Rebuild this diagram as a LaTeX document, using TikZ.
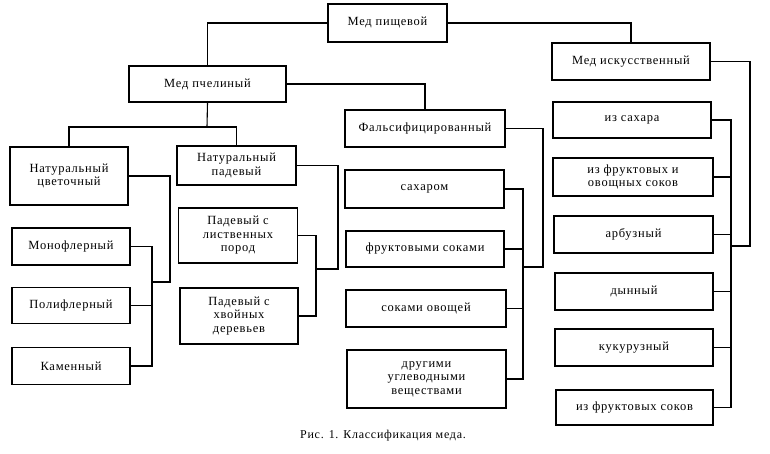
\documentclass[tikz,border=0pt]{standalone}
\usepackage{fontspec}
\setmainfont{Liberation Serif}[LetterSpace=6]
\begin{document}
\begin{tikzpicture}[x=1pt,y=-1pt,
  box/.style={draw,line width=1.2pt,align=center,inner sep=2pt,
    font=\fontsize{12.5}{13.5}\selectfont},
  link/.style={line width=1.1pt}]
\useasboundingbox (0,0) rectangle (770,454);
% boxes
\node[box,minimum width=119pt,minimum height=38pt] (pish) at (387.5,23) {Мед пищевой};
\node[box,minimum width=157pt,minimum height=36pt] (pchel) at (207.5,84) {Мед пчелиный};
\node[box,minimum width=158pt,minimum height=37pt] (iskus) at (631,61.5) {Мед искусственный};
\node[box,minimum width=160pt,minimum height=37pt] (fals) at (425,128.5) {Фальсифицированный};
\node[box,minimum width=118pt,minimum height=58pt] (natcv) at (69,176) {Натуральный\\цветочный};
\node[box,minimum width=119pt,minimum height=39pt] (natpad) at (236.5,165.5) {Натуральный\\падевый};
\node[box,minimum width=118pt,minimum height=37pt] (mono) at (71,246.5) {Монофлерный};
\node[box,minimum width=118pt,minimum height=36pt] (poli) at (71,305.5) {Полифлерный};
\node[box,minimum width=118pt,minimum height=37pt] (kamen) at (71,366) {Каменный};
\node[box,minimum width=119pt,minimum height=55pt] (padlist) at (238,235.5) {Падевый с\\лиственных\\пород};
\node[box,minimum width=118pt,minimum height=56pt] (padhv) at (239,316) {Падевый с\\хвойных\\деревьев};
\node[box,minimum width=159pt,minimum height=38pt] (sakh) at (424.5,189) {сахаром};
\node[box,minimum width=158pt,minimum height=36pt] (fruk) at (425,249) {фруктовыми соками};
\node[box,minimum width=160pt,minimum height=37pt] (ovosh) at (426,308.5) {соками овощей};
\node[box,minimum width=159pt,minimum height=58pt] (drug) at (426.5,379) {другими\\углеводными\\веществами};
\node[box,minimum width=158pt,minimum height=36pt] (izsah) at (632,120) {из сахара};
\node[box,minimum width=160pt,minimum height=38pt] (izfrov) at (633,177) {из фруктовых и\\овощных соков};
\node[box,minimum width=159pt,minimum height=37pt] (arbuz) at (633.5,234.5) {арбузный};
\node[box,minimum width=158pt,minimum height=37pt] (dyn) at (634,291.5) {дынный};
\node[box,minimum width=158pt,minimum height=37pt] (kuk) at (634,347.5) {кукурузный};
\node[box,minimum width=157pt,minimum height=35pt] (izfrs) at (634.5,407.5) {из фруктовых соков};
\node[font=\fontsize{12}{13}\selectfont] (cap) at (383,436) {Рис. 1. Классификация меда.};
% coordinates
\coordinate (t1) at (207,127);
\coordinate (a1) at (170,282);
\coordinate (a2) at (152,282);
\coordinate (b1) at (338,269);
\coordinate (b2) at (316,269);
\coordinate (c1) at (543,267);
\coordinate (c2) at (523,267);
\coordinate (d1) at (750,246);
\coordinate (d2) at (731,246);
% connectors
\draw[link] (pish.west) -| (pchel.north);
\draw[link] (pish.east) -| (iskus.north);
\draw[link] (pchel.east) -| (fals.north);
\draw[link] (pchel.south) -- (t1);
\draw[link] (natcv.north) |- (t1) -| (natpad.north);
% group natcv
\draw[link] (natcv.east) -| (a1) -- (a2);
\draw[link] (mono.east) -| (a2 |- kamen.east) -- (kamen.east);
\draw[link] (poli.east) -- (a2 |- poli.east);
% group natpad
\draw[link] (natpad.east) -| (b1) -- (b2);
\draw[link] (padlist.east) -| (b2 |- padhv.east) -- (padhv.east);
% group fals
\draw[link] (fals.east) -| (c1) -- (c2);
\draw[link] (sakh.east) -| (c2 |- drug.east) -- (drug.east);
\draw[link] (fruk.east) -- (c2 |- fruk.east);
\draw[link] (ovosh.east) -- (c2 |- ovosh.east);
% group iskus
\draw[link] (iskus.east) -| (d1) -- (d2);
\draw[link] (izsah.east) -| (d2 |- izfrs.east) -- (izfrs.east);
\draw[link] (izfrov.east) -- (d2 |- izfrov.east);
\draw[link] (arbuz.east) -- (d2 |- arbuz.east);
\draw[link] (dyn.east) -- (d2 |- dyn.east);
\draw[link] (kuk.east) -- (d2 |- kuk.east);
\end{tikzpicture}
\end{document}
